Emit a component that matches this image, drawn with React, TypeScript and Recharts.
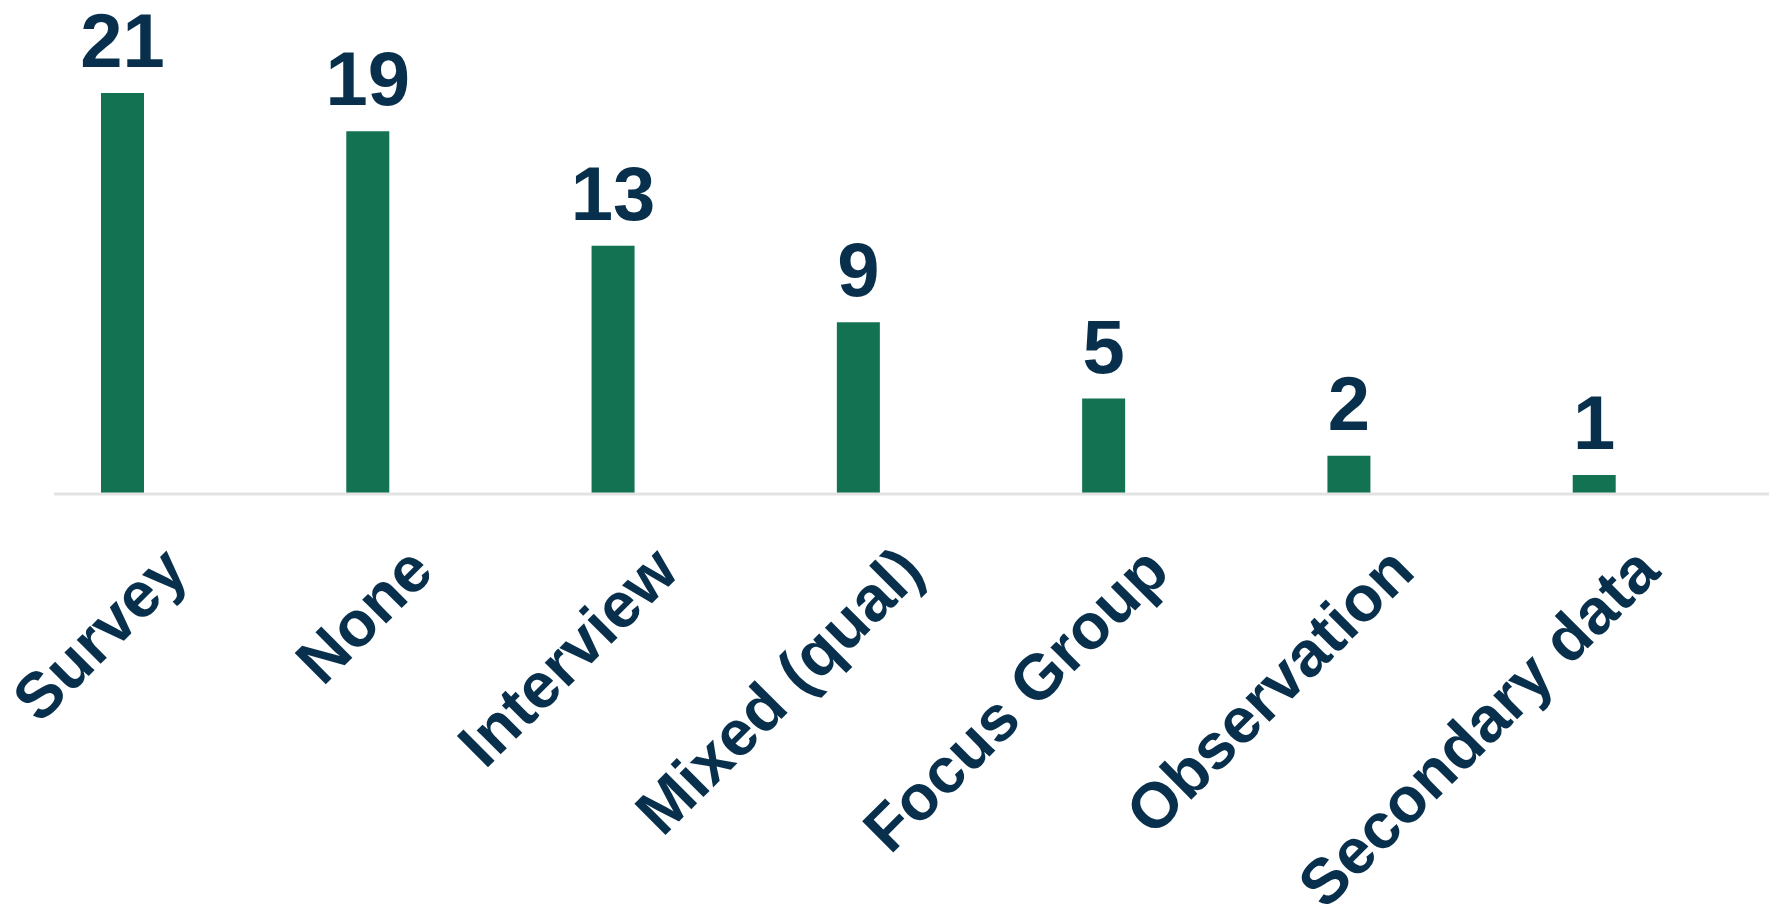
import React from 'react';
import { BarChart, Bar, XAxis, YAxis, LabelList } from 'recharts';

const methods = ['Survey', 'None', 'Interview', 'Mixed (qual)', 'Focus Group', 'Observation', 'Secondary data'];
const counts = [21, 19, 13, 9, 5, 2, 1];

const data = methods.map((method, i) => ({ method, count: counts[i] }));

const FONT = '"Liberation Sans", Arial, sans-serif';
const NAVY = '#08304c';

const AngledTick = (props: any) => {
  const { x, y, payload } = props;
  const tx = x + 68;
  const ty = y + 80;
  return (
    <text
      x={tx}
      y={ty}
      transform={`rotate(-45, ${tx}, ${ty})`}
      textAnchor="end"
      fill={NAVY}
      fontSize={64}
      fontWeight="bold"
      fontFamily={FONT}
    >
      {payload.value}
    </text>
  );
};

const App: React.FC = () => {
  return (
    <div style={{ position: 'absolute', left: 0, top: 0, background: '#fff' }}>
      <BarChart
        width={1769}
        height={906}
        data={data}
        margin={{ top: 93, right: 0, left: 0, bottom: 0 }}
      >
        <XAxis
          dataKey="method"
          interval={0}
          height={412}
          tickLine={false}
          tickSize={0}
          tickMargin={0}
          padding={{ left: 0, right: 52 }}
          axisLine={{ stroke: '#e3e3e3', strokeWidth: 3, strokeDasharray: '0 54 3000' }}
          tick={<AngledTick />}
        />
        <YAxis hide domain={[0, 21]} />
        <Bar dataKey="count" fill="#137252" barSize={43} isAnimationActive={false}>
          <LabelList
            dataKey="count"
            position="top"
            offset={26}
            fill={NAVY}
            fontSize={76}
            fontWeight="bold"
            fontFamily={FONT}
          />
        </Bar>
      </BarChart>
    </div>
  );
};

export default App;
